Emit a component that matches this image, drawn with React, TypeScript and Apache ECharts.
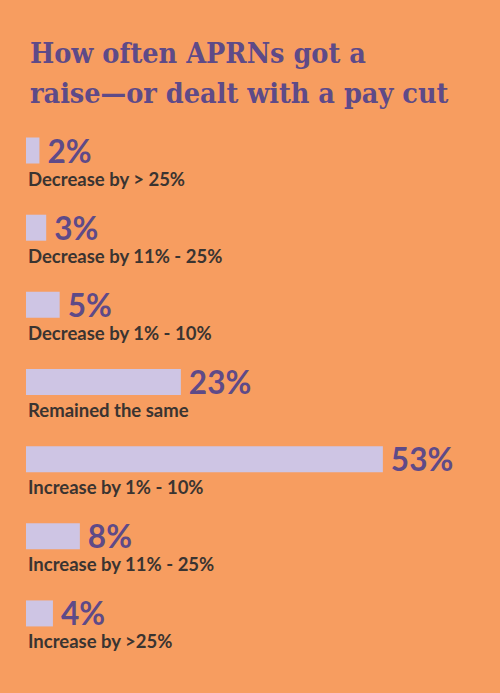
import React, { useEffect, useRef } from "react";
import * as echarts from "echarts";

const categories = [
  "Decrease by > 25%",
  "Decrease by 11% - 25%",
  "Decrease by 1% - 10%",
  "Remained the same",
  "Increase by 1% - 10%",
  "Increase by 11% - 25%",
  "Increase by >25%",
];
const values = [2, 3, 5, 23, 53, 8, 4];
const titleLines = ["How often APRNs got a", "raise\u2014or dealt with a pay cut"];

export default function App() {
  const ref = useRef<HTMLDivElement>(null);
  useEffect(() => {
    if (!ref.current) return;
    const chart = echarts.init(ref.current, undefined, { renderer: "svg" });
    chart.setOption({
      animation: false,
      backgroundColor: "#F79D60",
      title: {
        text: titleLines.join("\n"),
        left: 25,
        top: 28,
        textStyle: {
          fontFamily: "'DejaVu Serif Condensed', 'DejaVu Serif'",
          fontWeight: "bold",
          fontSize: 28.5,
          lineHeight: 40,
          color: "#5E4A88",
        },
      },
      grid: { left: 26, right: 70, top: 112, bottom: 41 },
      xAxis: {
        type: "value",
        min: 0,
        max: 60,
        show: false,
      },
      yAxis: {
        type: "category",
        inverse: true,
        data: categories,
        axisLine: { show: false },
        axisTick: { show: false },
        splitLine: { show: false },
        axisLabel: { show: false },
      },
      series: [
        {
          type: "bar",
          data: values,
          barWidth: 26,
          itemStyle: { color: "#CEC5E4" },
          label: {
            show: true,
            position: "right",
            distance: 8,
            formatter: (p: any) => p.value + "%",
            fontFamily: "Lato",
            fontWeight: "bold",
            fontSize: 31.5,
            lineHeight: 26,
            color: "#5E4A88",
          },
        },
        {
          type: "bar",
          data: values,
          barWidth: 26,
          barGap: "-100%",
          silent: true,
          itemStyle: { color: "rgba(0,0,0,0)" },
          label: {
            show: true,
            position: "insideLeft",
            distance: 2,
            offset: [0, 28],
            formatter: (p: any) => categories[p.dataIndex],
            fontFamily: "Lato",
            fontWeight: "bold",
            fontSize: 18.5,
            lineHeight: 16,
            color: "#3A3431",
          },
        },
      ],
    });
    return () => chart.dispose();
  }, []);
  return (
    <div
      ref={ref}
      style={{ position: "fixed", left: 0, top: 0, width: 500, height: 693 }}
    />
  );
}
